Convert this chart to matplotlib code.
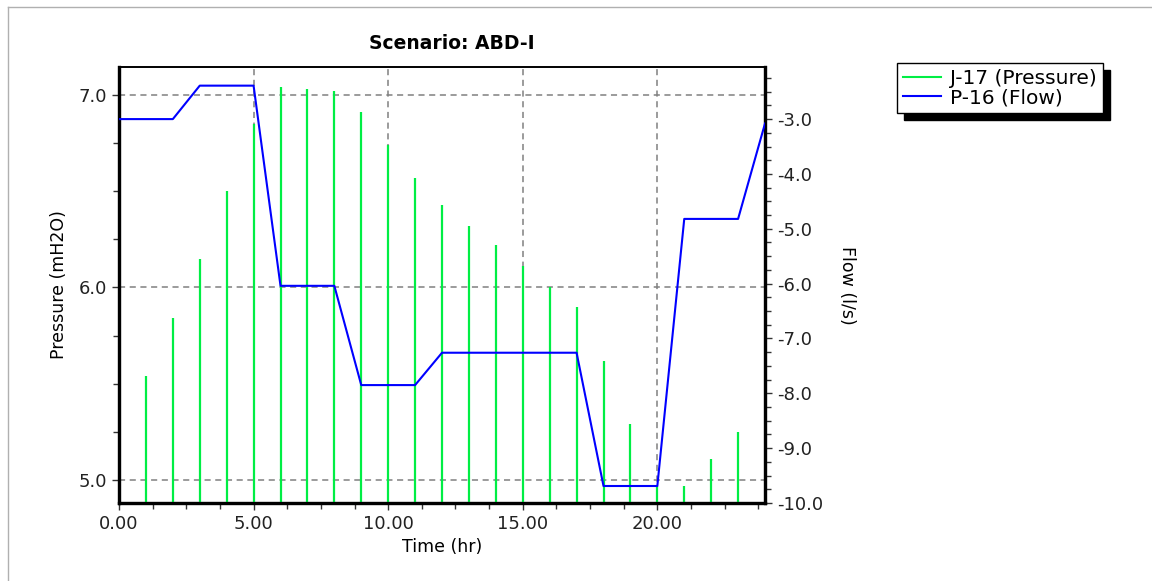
import matplotlib
matplotlib.use("Agg")
import matplotlib.pyplot as plt
import matplotlib.patches as mp
from matplotlib.lines import Line2D
from matplotlib.ticker import MultipleLocator, FormatStrFormatter

# hourly values
hours = list(range(1, 24))
pressure = [5.54, 5.84, 6.15, 6.50, 6.85, 7.04, 7.03, 7.02, 6.91, 6.74, 6.57,
            6.43, 6.32, 6.22, 6.11, 6.00, 5.90, 5.62, 5.29, 4.97, 4.97, 5.11, 5.25]

flow_t = [0, 2, 3, 5, 6, 8, 9, 11, 12, 17, 18, 20, 21, 23, 24]
flow = [-3.00, -3.00, -2.39, -2.39, -6.04, -6.04, -7.85, -7.85, -7.26, -7.26,
        -9.69, -9.69, -4.82, -4.82, -3.08]

title = "Scenario: ABD-I"
p_min, p_max = 4.88, 7.145
q_min, q_max = -10.0, -2.05

plt.rcParams["font.family"] = "DejaVu Sans"
plt.rcParams["axes.unicode_minus"] = False

fig = plt.figure(figsize=(11.52, 5.81), dpi=100)
ax = fig.add_axes([119 / 1152, 78 / 581, 646 / 1152, 436 / 581])
ax2 = ax.twinx()

ax.vlines(hours, p_min, pressure, color="#00ee44", linewidth=1.6, zorder=3)
ax2.plot(flow_t, flow, color="#0000ff", linewidth=1.5, zorder=4)

ax.set_xlim(0, 24)
ax.set_ylim(p_min, p_max)
ax2.set_ylim(q_min, q_max)

ax.xaxis.set_major_locator(MultipleLocator(5))
ax.xaxis.set_minor_locator(MultipleLocator(1.25))
ax.xaxis.set_major_formatter(FormatStrFormatter("%.2f"))
ax.yaxis.set_major_locator(MultipleLocator(1))
ax.yaxis.set_minor_locator(MultipleLocator(0.25))
ax.yaxis.set_major_formatter(FormatStrFormatter("%.1f"))
ax2.yaxis.set_major_locator(MultipleLocator(1))
ax2.yaxis.set_minor_locator(MultipleLocator(0.25))
ax2.yaxis.set_major_formatter(FormatStrFormatter("%.1f"))

ax.grid(True, which="major", color="#808080", linestyle=(0, (4, 3)), linewidth=1.1)
ax.set_axisbelow(True)

for a in (ax, ax2):
    a.tick_params(which="both", labelsize=13, direction="out", width=1,
                  color="#333333", labelcolor="#222222")
    a.tick_params(which="major", length=5)
    a.tick_params(which="minor", length=4)
    for side in ("left", "bottom", "right"):
        a.spines[side].set_linewidth(2.3)
    a.spines["top"].set_linewidth(1.2)

ax.set_xlabel("Time (hr)", fontsize=12.5, labelpad=4)
ax.set_ylabel("Pressure (mH2O)", fontsize=12.5, labelpad=8)
ax2.set_ylabel("Flow (l/s)", fontsize=12.5, rotation=270, labelpad=24)
ax.set_title(title, fontsize=13.5, fontweight="bold", pad=13, x=0.515)

handles = [Line2D([], [], color="#00ee44", linewidth=1.5),
           Line2D([], [], color="#0000ff", linewidth=1.5)]
leg = fig.legend(handles, ["J-17 (Pressure)", "P-16 (Flow)"],
                 loc="upper left", bbox_to_anchor=(897 / 1152, 1 - 63 / 581),
                 borderaxespad=0, fontsize=14.5, frameon=True, fancybox=False,
                 framealpha=1, edgecolor="black", handlelength=1.9,
                 handletextpad=0.45, borderpad=0.3, labelspacing=0.0)
leg.get_frame().set_linewidth(1.0)
leg.set_zorder(6)

# hard black drop shadow behind the legend box
fig.canvas.draw()
bb = leg.get_window_extent()
shadow = mp.Rectangle((bb.x0 + 7, bb.y0 - 7), bb.width, bb.height,
                      transform=None, facecolor="black", edgecolor="black", zorder=5)
fig.patches.append(shadow)

# thin grey frame of the window
fig.add_artist(Line2D([7.5 / 1152, 7.5 / 1152], [0, 1 - 6.5 / 581],
                      transform=fig.transFigure, color="#b0b0b0", linewidth=1))
fig.add_artist(Line2D([7.5 / 1152, 1], [1 - 6.5 / 581, 1 - 6.5 / 581],
                      transform=fig.transFigure, color="#b0b0b0", linewidth=1))

fig.savefig("out.png", dpi=100)
